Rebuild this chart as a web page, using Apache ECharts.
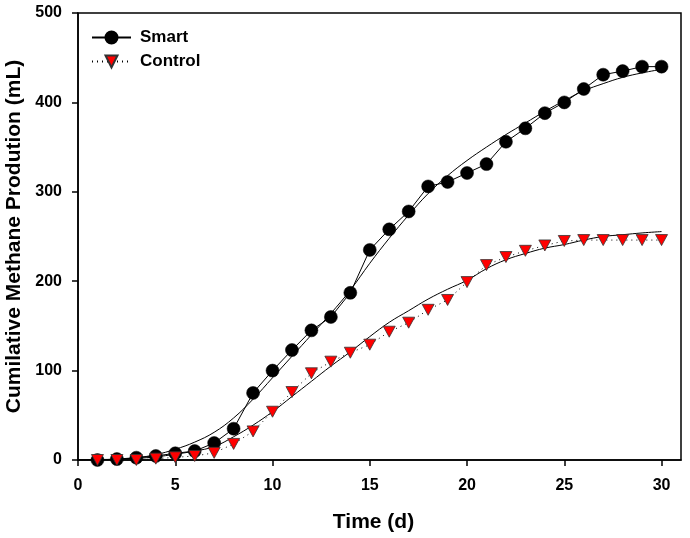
<!DOCTYPE html>
<html>
<head>
<meta charset="utf-8">
<script src="https://cdn.jsdelivr.net/npm/echarts@6/dist/echarts.min.js"></script>
<style>
html,body{margin:0;padding:0;background:#fff;}
#chart{width:690px;height:538px;}
</style>
</head>
<body>
<div id="chart"></div>
<script>
// Observed data (day 1..30)
const days = [1,2,3,4,5,6,7,8,9,10,11,12,13,14,15,16,17,18,19,20,21,22,23,24,25,26,27,28,29,30];
const smartValues = [0,1,2.6,4.5,7.5,10,19,35,75,100,123,145,160,187,235,258,278,306,311,321,331,356,371,388,400,415,431,435,440,440];
const controlValues = [0,0,0,1.5,3,4.5,8,18,32,54,76,97,110,120,129,143.5,153.6,168,179,199,218,227,234,240,245,246,246,246,246,246];

// Fitted curves (at each day)
const fitDays = [0,1,2,3,4,5,6,7,8,9,10,11,12,13,14,15,16,17,18,19,20,21,22,23,24,25,26,27,28,29,30];
const smartFit = [0.2,0.5,1,2.5,6,12,20,31,47,68,92,116,140,164,190,220,248,274,298,318,335,350,364,377,390,402,413,421,428,433,437];
const controlFit = [0,0.3,0.8,1.8,3.5,6.5,10,15,26,39,54,71,88,105,121,138,154,167,180,191,201,214,224,231,237,241,246,250,252,254,255.5];

// Axis ticks
const xTicks = [0,5,10,15,20,25,30];
const yTicks = [0,100,200,300,400,500];

const pair = (xs, ys) => xs.map((x, i) => [x, ys[i]]);
const FONT = "'Liberation Sans', Arial, sans-serif";

const chart = echarts.init(document.getElementById('chart'), null, {renderer: 'canvas'});
chart.setOption({
  animation: false,
  backgroundColor: '#fff',
  grid: {left: 78, top: 13, right: 9, bottom: 78, outerBoundsMode: 'none', containLabel: false,
         show: true, borderColor: '#000', borderWidth: 1.5, backgroundColor: 'transparent'},
  legend: {
    orient: 'vertical', left: 86, top: 24,
    itemWidth: 39, itemHeight: 15, itemGap: 7,
    data: ['Smart', 'Control'],
    textStyle: {fontFamily: FONT, fontWeight: 'bold', fontSize: 17, color: '#000', padding: [0,0,0,4]}
  },
  xAxis: {
    type: 'value', min: 0, max: 31,
    name: 'Time (d)', nameLocation: 'middle', nameGap: 52,
    nameTextStyle: {fontFamily: FONT, fontWeight: 'bold', fontSize: 21, color: '#000', padding: [0,12,0,0]},
    axisLine: {show: true, lineStyle: {color: '#000', width: 1.5}},
    axisTick: {show: true, length: 6, lineStyle: {color: '#000', width: 1.5}, customValues: xTicks},
    axisLabel: {fontFamily: FONT, fontWeight: 'bold', fontSize: 16, color: '#000', margin: 18, customValues: xTicks},
    splitLine: {show: false}
  },
  yAxis: {
    type: 'value', min: 0, max: 500, interval: 100,
    name: 'Cumilative Methane Prodution (mL)', nameLocation: 'middle', nameGap: 47,
    nameTextStyle: {fontFamily: FONT, fontWeight: 'bold', fontSize: 21, color: '#000'},
    axisLine: {show: true, lineStyle: {color: '#000', width: 1.5}},
    axisTick: {show: true, length: 6, lineStyle: {color: '#000', width: 1.5}, customValues: yTicks},
    axisLabel: {fontFamily: FONT, fontWeight: 'bold', fontSize: 16, color: '#000', margin: 16, customValues: yTicks},
    splitLine: {show: false}
  },
  series: [
    {
      name: 'SmartFit', type: 'line', data: pair(fitDays, smartFit), smooth: 0.4,
      showSymbol: false, symbol: 'none', lineStyle: {color: '#000', width: 1}, z: 1, silent: true
    },
    {
      name: 'ControlFit', type: 'line', data: pair(fitDays, controlFit), smooth: 0.4,
      showSymbol: false, symbol: 'none', lineStyle: {color: '#000', width: 1}, z: 1, silent: true
    },
    {
      name: 'Smart', type: 'line', data: pair(days, smartValues),
      symbol: 'circle', symbolSize: 13,
      itemStyle: {color: '#000', borderColor: '#000', borderWidth: 0.5},
      lineStyle: {color: '#000', width: 1, type: 'solid'}, z: 3
    },
    {
      name: 'Control', type: 'line', data: pair(days, controlValues),
      symbol: 'triangle', symbolRotate: 180, symbolSize: [12, 11],
      itemStyle: {color: '#ff0000', borderColor: '#333', borderWidth: 0.8},
      lineStyle: {color: '#000', width: 1, type: [1, 4]}, z: 4
    }
  ]
});
</script>
</body>
</html>
